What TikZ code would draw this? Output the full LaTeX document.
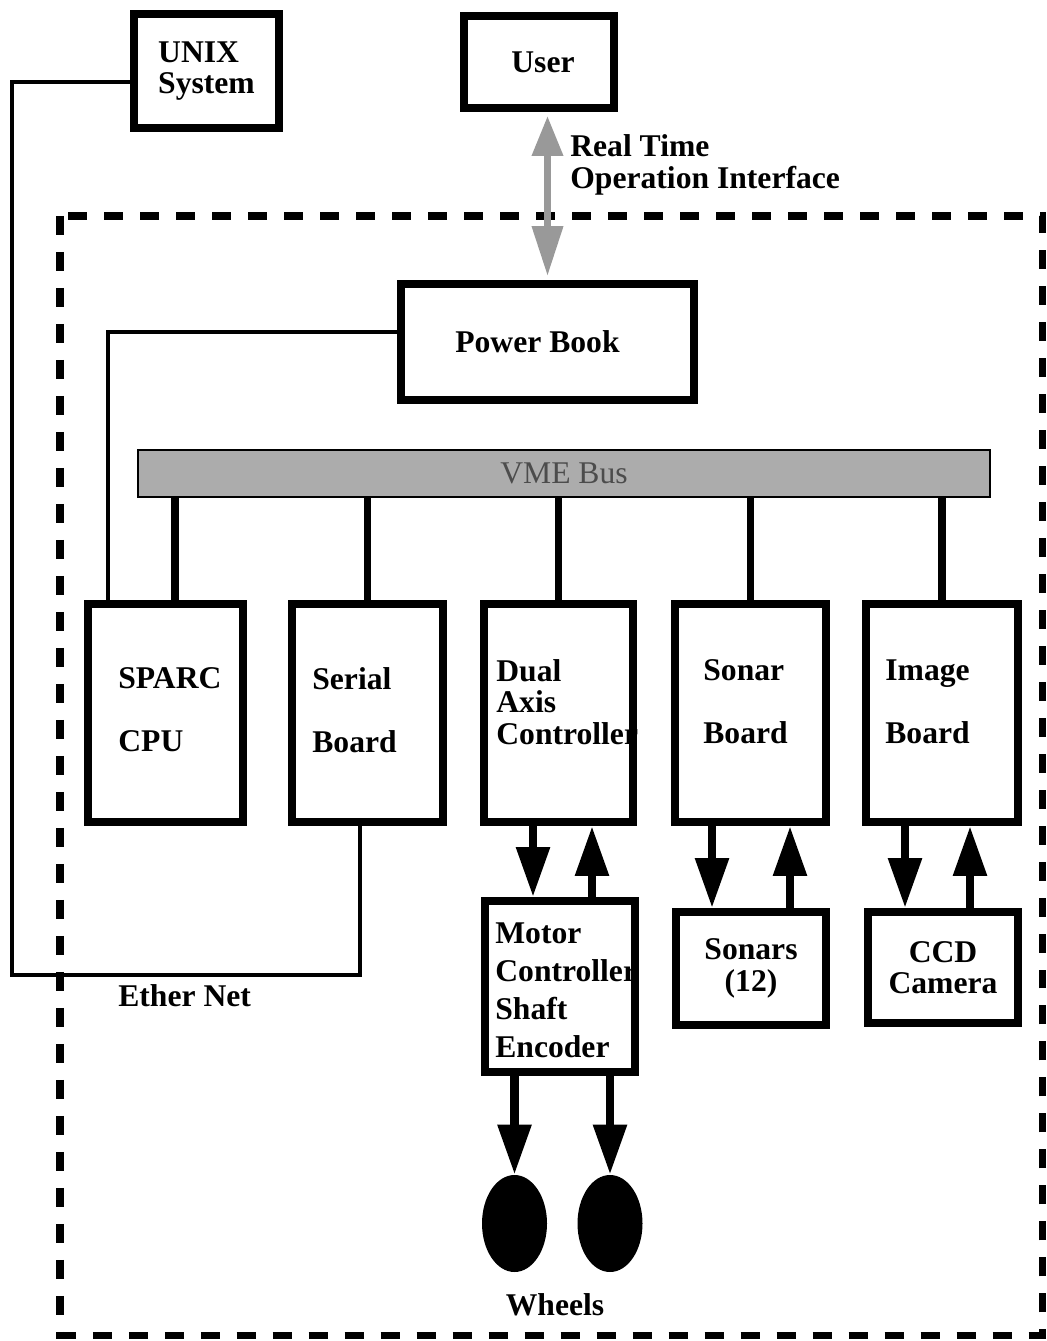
\documentclass[tikz,border=0pt]{standalone}
\usepackage{fontspec}
\setmainfont{Liberation Serif}
\usetikzlibrary{arrows.meta,shapes.geometric}

\begin{document}
\begin{tikzpicture}[x=0.02cm, y=-0.02cm,
    font=\fontsize{18}{18}\selectfont\bfseries,
    box/.style 2 args={draw, rectangle, line width=4.5pt, minimum width=#1*0.02cm, minimum height=#2*0.02cm, inner sep=0pt},
    txt/.style={align=left, anchor=west, inner sep=0pt},
    wire/.style={line width=1.8pt},
    stub/.style={line width=4.5pt},
    bigarrow/.style={line width=5pt, -{Triangle[length=1cm, width=0.64cm]}},
    ioarrow/.style={color=gray!80, line width=4pt, shorten <=2.3pt, shorten >=2.3pt,
        {Triangle[length=0.8cm, width=0.6cm]}-{Triangle[length=1cm, width=0.6cm]}},
    wheel/.style={ellipse, fill=black, minimum width=65*0.02cm, minimum height=97*0.02cm, inner sep=0pt},
    frame/.style={line width=4pt, dash pattern=on 0.38cm off 0.34cm}]
    \useasboundingbox (0,0) rectangle (1046,1341);

    % outer systems
    \node[box={145}{114}, align=left] (unix) at (206.5,71) {UNIX\\System};
    \node[box={150}{92}] (user) at (539,62) {};
    \node (usertxt) at (543,62) {User};
    \node[txt] (rtoi) at (570,165) {Real Time\\Operation Interface};

    % robot frame
    \draw[frame] (60,216) rectangle (1042,1335);

    \node[box={293}{116}] (power) at (547.5,342) {};
    \node[txt] (powertxt) at (455,342) {Power Book};
    \node[draw, line width=1pt, fill=gray!65, minimum width=852*0.02cm, minimum height=47*0.02cm,
        inner sep=0pt, text=black!70, font=\fontsize{18}{18}\selectfont] (vme) at (564,473.5) {VME Bus};

    % boards on the bus
    \node[box={155}{218}] (sparc) at (165.5,713) {};
    \node[box={151}{218}] (serial) at (367.5,713) {};
    \node[box={149}{218}] (dual) at (558.5,713) {};
    \node[box={151}{218}] (sonar) at (750.5,713) {};
    \node[box={152}{218}] (image) at (942,713) {};
    \node[txt] (sparctxt) at (118,710) {SPARC\\[18pt]CPU};
    \node[txt] (serialtxt) at (312,710) {Serial\\[18pt]Board};
    \node[txt] (dualtxt) at (496,702) {Dual\\Axis\\Controller};
    \node[txt] (sonartxt) at (703,702) {Sonar\\[18pt]Board};
    \node[txt] (imagetxt) at (885,702) {Image\\[18pt]Board};

    % devices
    \node[box={150}{171}] (motor) at (560,986.5) {};
    \node[txt] (motortxt) at (495,990) {Motor\\[3.6pt]Controller\\[3.6pt]Shaft\\[3.6pt]Encoder};
    \node[box={150}{113}, align=center] (sonars) at (751,968.5) {Sonars\\(12)};
    \node[box={150}{111}, align=center] (ccd) at (943,967.5) {CCD\\Camera};
    \node[wheel] (wl) at (514.5,1223.5) {};
    \node[wheel] (wr) at (610,1223.5) {};
    \node (wheels) at (555,1305) {Wheels};
    \node[txt] (ether) at (118,996) {Ether Net};

    % user link
    \draw[ioarrow] (power.north |- user.south) -- (power.north);

    % ether net
    \coordinate (ethercorner) at (12,975);
    \draw[wire] ([yshift=-0.22cm]unix.west) -| (ethercorner) -| ([xshift=-0.15cm]serial.south);
    \draw[wire] ([yshift=0.2cm]power.west) -| ([xshift=-1.15cm]sparc.north);

    % bus stubs
    \draw[stub] ([xshift=0.19cm]sparc.north) -- ([xshift=0.19cm]sparc.north |- vme.south);
    \draw[stub] (serial.north) -- (serial.north |- vme.south);
    \draw[stub] (dual.north) -- (dual.north |- vme.south);
    \draw[stub] (sonar.north) -- (sonar.north |- vme.south);
    \draw[stub] (image.north) -- (image.north |- vme.south);

    % signals
    \draw[bigarrow] ([xshift=-0.51cm]dual.south) -- ([xshift=-0.51cm]dual.south |- motor.north);
    \draw[bigarrow] ([xshift=0.67cm]dual.south |- motor.north) -- ([xshift=0.67cm]dual.south);
    \draw[bigarrow] ([xshift=-0.77cm]sonar.south) -- ([xshift=-0.77cm]sonar.south |- sonars.north);
    \draw[bigarrow] ([xshift=0.79cm]sonar.south |- sonars.north) -- ([xshift=0.79cm]sonar.south);
    \draw[bigarrow] ([xshift=-0.74cm]image.south) -- ([xshift=-0.74cm]image.south |- ccd.north);
    \draw[bigarrow] ([xshift=0.56cm]image.south |- ccd.north) -- ([xshift=0.56cm]image.south);
    \draw[bigarrow] (motor.south -| wl.north) -- (wl.north);
    \draw[bigarrow] (motor.south -| wr.north) -- (wr.north);
\end{tikzpicture}
\end{document}
